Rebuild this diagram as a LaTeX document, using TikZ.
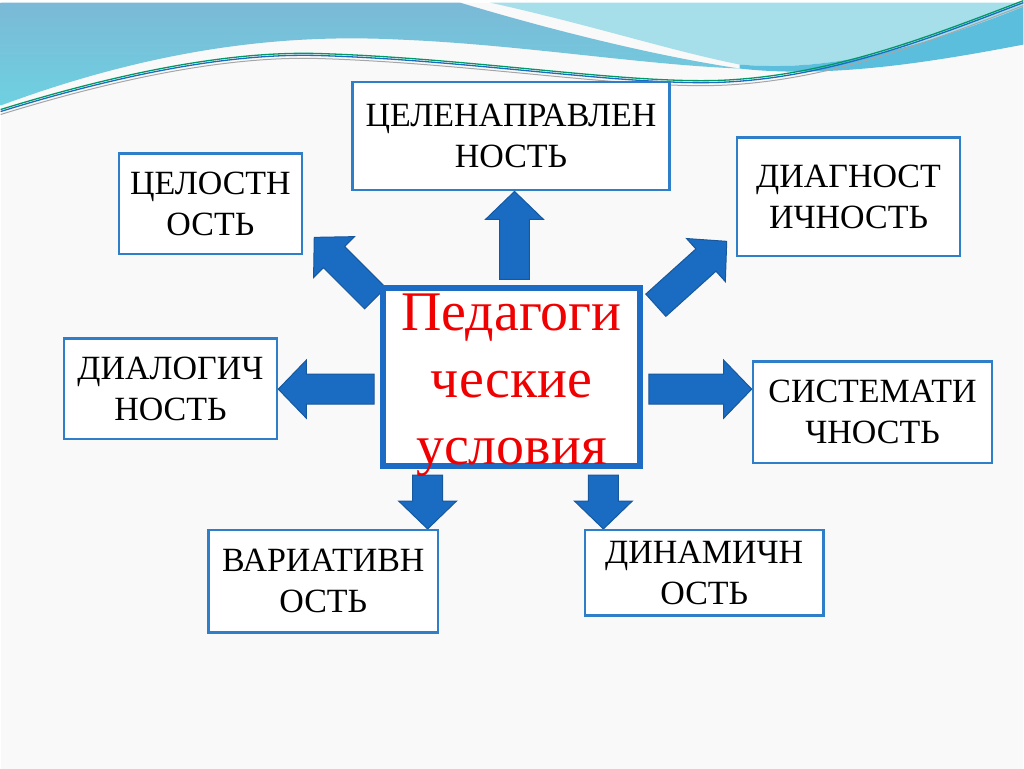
\documentclass[tikz,border=0pt]{standalone}
\usepackage{fontspec}
\setmainfont{Liberation Serif}
\usetikzlibrary{calc}
\definecolor{boxblue}{HTML}{2E7EC9}
\definecolor{mainblue}{HTML}{1C6BC4}
\definecolor{arrowblue}{HTML}{1A6CC3}
\definecolor{arrowedge}{HTML}{17579C}
\definecolor{textred}{HTML}{F00000}
\definecolor{wavetop}{HTML}{7BB9D7}
\definecolor{wavelow}{HTML}{6ED1E1}
\definecolor{wavelight}{HTML}{A6DFEA}
\definecolor{wavemid}{HTML}{5CBEDD}
\definecolor{bggray}{HTML}{F9F9F9}
\pgfdeclarelayer{back}
\pgfdeclarelayer{arrows}
\pgfsetlayers{back,arrows,main}
\newcommand{\BigArrow}[2]{%
\filldraw[arrowblue,draw=arrowedge,line width=1pt]
  let \p1=(#1), \p2=(#2), \n1={atan2(\y2-\y1,\x2-\x1)}, \n2={veclen(\x2-\x1,\y2-\y1)} in
  [shift={(\p1)},rotate=\n1]
  (0pt,-15pt) -- (\n2-28pt,-15pt) -- (\n2-28pt,-29pt) -- (\n2,0pt)
  -- (\n2-28pt,29pt) -- (\n2-28pt,15pt) -- (0pt,15pt) -- cycle;}

\begin{document}
\begin{tikzpicture}[x=1pt,y=-1pt,
  box/.style={draw=boxblue, line width=2.5pt, fill=white, align=center, inner sep=0pt,
    font=\fontsize{34}{41}\selectfont},
  main/.style={draw=mainblue, line width=6pt, fill=white, align=center, inner xsep=0pt,
    inner ysep=-10pt, text=textred, font=\fontsize{56}{67}\selectfont}]
\begin{pgfonlayer}{back}
\fill[bggray] (0,0) rectangle (1024,767);
\shade[top color=wavetop, bottom color=wavelow] (0,0) -- (460,0)
  .. controls (560,30) and (660,54) .. (740,66)
  .. controls (640,62) and (520,42) .. (400,37)
  .. controls (300,32) and (170,40) .. (0,103) -- cycle;
\fill[wavelight] (490,0) -- (1024,0) -- (1024,4)
  .. controls (880,62) and (800,67) .. (740,62)
  .. controls (670,48) and (590,22) .. (490,0) -- cycle;
\fill[wavemid] (740,62) .. controls (800,67) and (880,62) .. (1024,4)
  -- (1024,42) .. controls (930,60) and (830,76) .. (740,66) -- cycle;
\draw[color=black!35, line width=1pt, yshift=-5pt] (0,107) .. controls (120,70) and (230,48) .. (320,51)
  .. controls (480,56) and (640,84) .. (735,77) .. controls (840,70) and (940,30) .. (1024,-2);
\draw[color=arrowblue, line width=1.3pt, yshift=-2pt] (0,107) .. controls (120,70) and (230,48) .. (320,51)
  .. controls (480,56) and (640,84) .. (735,77) .. controls (840,70) and (940,30) .. (1024,-2);
\draw[color=teal!80!green, line width=1.3pt] (0,107) .. controls (120,70) and (230,48) .. (320,51)
  .. controls (480,56) and (640,84) .. (735,77) .. controls (840,70) and (940,30) .. (1024,-2);
\end{pgfonlayer}
\useasboundingbox (0,0) rectangle (1024,767);

\node[main, minimum width=257pt, minimum height=178pt] (cen) at (511.5,375) {\rule{0pt}{52pt}Педагоги\\ческие\\условия};
\node[box, minimum width=317.5pt, minimum height=108.5pt] (tcel) at (511,133.5) {ЦЕЛЕНАПРАВЛЕН\\НОСТЬ};
\node[box, minimum width=183.5pt, minimum height=100.5pt] (cel) at (210,201.5) {ЦЕЛОСТН\\ОСТЬ};
\node[box, minimum width=223.5pt, minimum height=118.5pt] (diag) at (849,194.5) {ДИАГНОСТ\\ИЧНОСТЬ};
\node[box, minimum width=213.5pt, minimum height=100.5pt] (dial) at (170,386.5) {ДИАЛОГИЧ\\НОСТЬ};
\node[box, minimum width=239.5pt, minimum height=101.5pt] (sist) at (873,410) {СИСТЕМАТИ\\ЧНОСТЬ};
\node[box, minimum width=229.5pt, minimum height=102.5pt] (var) at (323,579.5) {ВАРИАТИВН\\ОСТЬ};
\node[box, minimum width=238.5pt, minimum height=85.5pt] (din) at (704.5,571) {ДИНАМИЧН\\ОСТЬ};

\coordinate (up) at ($(cen.north)+(3,-6)$);
\coordinate (lt) at ($(cen.west)+(-6,12)$);
\coordinate (rt) at ($(cen.east)+(6,12)$);
\coordinate (dl) at ($(cen.south)+(-84,6)$);
\coordinate (dr) at ($(cen.south)+(92,6)$);
\coordinate (nw) at ($(cen.north west)+(-5,13)$);
\coordinate (ne) at ($(cen.north east)+(13,20)$);
\coordinate (nwtip) at ($(cel.south east)+(11,-18)$);
\coordinate (netip) at ($(diag.south west)+(-9,-16)$);
\begin{pgfonlayer}{arrows}
\BigArrow{up}{up |- tcel.south}
\BigArrow{lt}{lt -| dial.east}
\BigArrow{rt}{rt -| sist.west}
\BigArrow{dl}{dl |- var.north}
\BigArrow{dr}{dr |- din.north}
\BigArrow{nw}{nwtip}
\BigArrow{ne}{netip}
\end{pgfonlayer}
\end{tikzpicture}
\end{document}
